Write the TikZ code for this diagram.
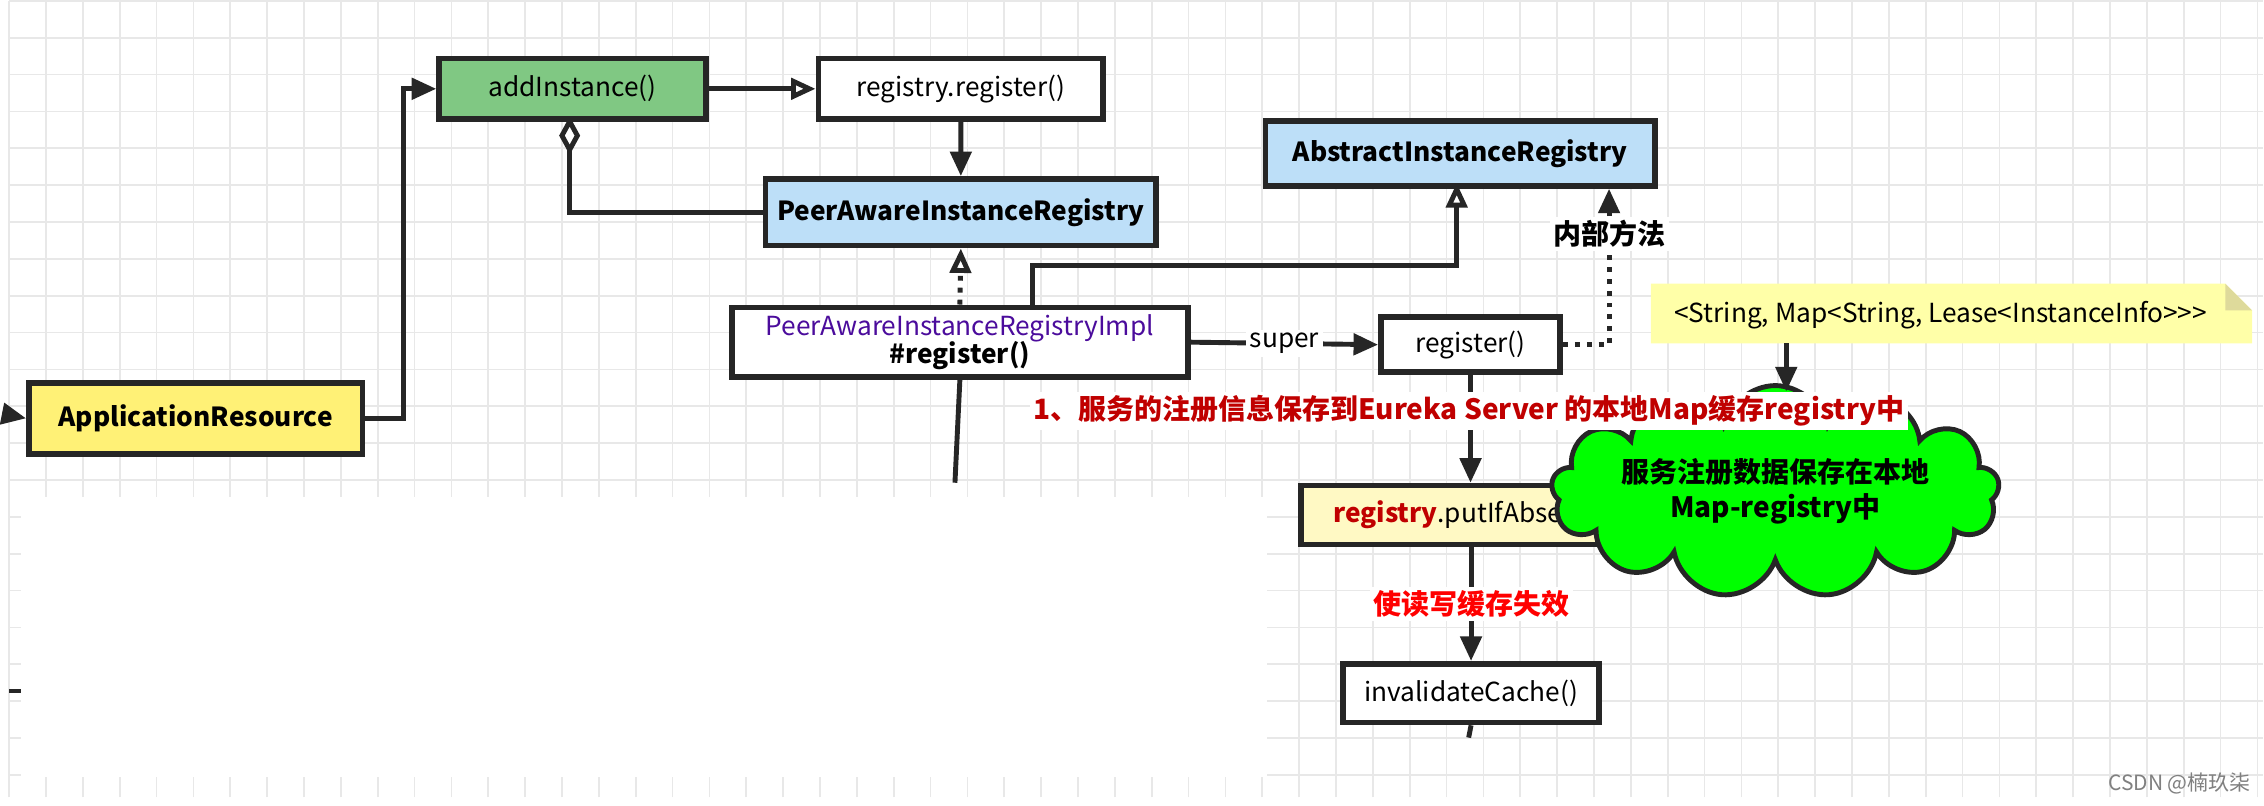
\documentclass[tikz,border=0pt]{standalone}
\usepackage{fontspec}
\setmainfont{Noto Sans CJK SC}
\usetikzlibrary{arrows.meta,shapes.symbols}
\definecolor{gridgray}{HTML}{E8E8E8}
\definecolor{boxgreen}{HTML}{80C883}
\definecolor{boxblue}{HTML}{BDDFF8}
\definecolor{boxyellow}{HTML}{FFF176}
\definecolor{paleyellow}{HTML}{FFF9C4}
\definecolor{noteyellow}{HTML}{FFFFA8}
\definecolor{darkred}{HTML}{C00000}
\definecolor{implpurple}{HTML}{4B0C9C}

\begin{document}
\begin{tikzpicture}[x=0.01cm, y=-0.01cm, font=\fontsize{7.5}{9}\selectfont]
        % ================= 样式定义 =================
        \tikzset{
            % 方框:黑色粗边
            mbox/.style={draw=black!85, line width=1.6pt, inner sep=0pt, anchor=north west},
            % 连线
            link/.style={draw=black!85, line width=1.4pt},
            filled/.style={link, -{Triangle[length=7pt, width=6pt]}},
            hollow/.style={link, -{Triangle[open, length=7pt, width=6pt, fill=white]}},
            redlabel/.style={fill=white, inner sep=1pt, font=\fontsize{8}{9}\selectfont\bfseries}
        }

        % ================= 背景 =================
        \fill[white] (0,0) rectangle (2264,800);
        \draw[gridgray, line width=0.5pt, step=0.37cm] (0,0) grid (2264,800);
        \fill[white] (12,498) rectangle (1263,780);

        % ================= 方框 =================
        \node[mbox, fill=boxgreen, minimum width=2.68cm, minimum height=0.61cm] (add) at (429,55) {addInstance()};
        \node[mbox, fill=white, minimum width=2.86cm, minimum height=0.61cm] (reg) at (810,55) {registry.register()};
        \node[mbox, fill=boxblue, minimum width=3.92cm, minimum height=0.67cm] (peer) at (757,176) {\bfseries PeerAwareInstanceRegistry};
        \node[mbox, fill=boxblue, minimum width=3.91cm, minimum height=0.65cm] (abs) at (1259,118) {\bfseries AbstractInstanceRegistry};
        \node[mbox, fill=white, minimum width=4.58cm, minimum height=0.70cm, align=center] (impl) at (723,305)
            {\textcolor{implpurple}{PeerAwareInstanceRegistryImpl}\\[-1pt]\bfseries \#register()};
        \node[mbox, fill=white, minimum width=1.80cm, minimum height=0.55cm] (sreg) at (1375,315) {register()};
        \node[mbox, fill=boxyellow, minimum width=3.35cm, minimum height=0.71cm] (app) at (17,381) {\bfseries ApplicationResource};
        \node[mbox, fill=paleyellow, minimum width=3.38cm, minimum height=0.59cm] (put) at (1295,484)
            {\textcolor{darkred}{\bfseries registry}.putIfAbsent()};
        \node[mbox, fill=white, minimum width=2.57cm, minimum height=0.59cm] (inv) at (1337,663) {invalidateCache()};

        % 便签
        \fill[noteyellow] (1649,284) -- (2226,284) -- (2253,311) -- (2253,344) -- (1649,344) -- cycle;
        \fill[yellow!50!gray!60] (2226,284) -- (2253,311) -- (2226,311) -- cycle;
        \node (note) at (1940,316) {<String, Map<String, Lease<InstanceInfo>{}>{}>};
        \coordinate (notebot) at (1785,344);

        % 云
        \node[cloud, cloud puffs=13, aspect=3.2, draw=black!85, line width=1.4pt, fill=green, align=center,
            inner sep=0pt, minimum width=3.5cm, minimum height=1.0cm, font=\fontsize{8}{10}\selectfont\bfseries]
            (cloud) at (1774,493) {服务注册数据保存在本地\\Map-registry中};

        % ================= 连线 =================
        \coordinate (leftin) at (0,416);
        \coordinate (diam) at (563,116);
        \coordinate (implup) at (1028,305);
        \coordinate (absup) at (1454,183);
        \coordinate (bend) at (1607,250);
        \coordinate (impldown) at (950,484);
        \coordinate (invdown) at (1466,740);
        \draw[filled] (leftin) -- (app.west);
        \draw[filled] (app.east) -- ++(38,0) |- (add.west);
        \draw[hollow] (add.east) -- (reg.west);
        \draw[filled] (reg.south) -- (peer.north);
        \draw[link, {Diamond[open, length=11pt, width=6pt, fill=white]}-] (diam) |- (peer.west);
        \draw[link, dotted, -{Triangle[open, length=7pt, width=6pt, fill=white]}] (impl.north) -- (peer.south);
        \draw[hollow] (implup) |- (absup |- 0,266) -- (absup);
        \draw[filled] (impl.east) -- node[fill=white, inner sep=1pt] {super} (sreg.west);
        \draw[link, dotted] (sreg.east) -| (bend);
        \node[fill=white, inner sep=1pt, font=\fontsize{8}{9}\selectfont\bfseries] (inner) at (1607,234) {内部方法};
        \draw[filled] (inner.north) -- (abs.south -| inner.north);
        \draw[link] (impl.south) -- (impldown);
        \draw[filled] (sreg.south) -- (put.north -| sreg.south);
        \node[redlabel, text=darkred] (msg) at (1466,412) {1、服务的注册信息保存到Eureka Server 的本地Map缓存registry中};
        \draw[filled] (notebot) -- (notebot |- msg.north);
        \draw[filled] (put.south -| inv.north) -- node[redlabel, text=red] {使读写缓存失效} (inv.north);
        \draw[link] (inv.south) -- (invdown);
        \coordinate (leftstub) at (0,693);
        \coordinate (stubend) at (12,693);
        \draw[link, line width=1pt] (leftstub) -- (stubend);
        \node[text=gray, font=\fontsize{6}{7}\selectfont] (mark) at (2180,786) {CSDN @楠玖柒};
    \end{tikzpicture}
\end{document}
